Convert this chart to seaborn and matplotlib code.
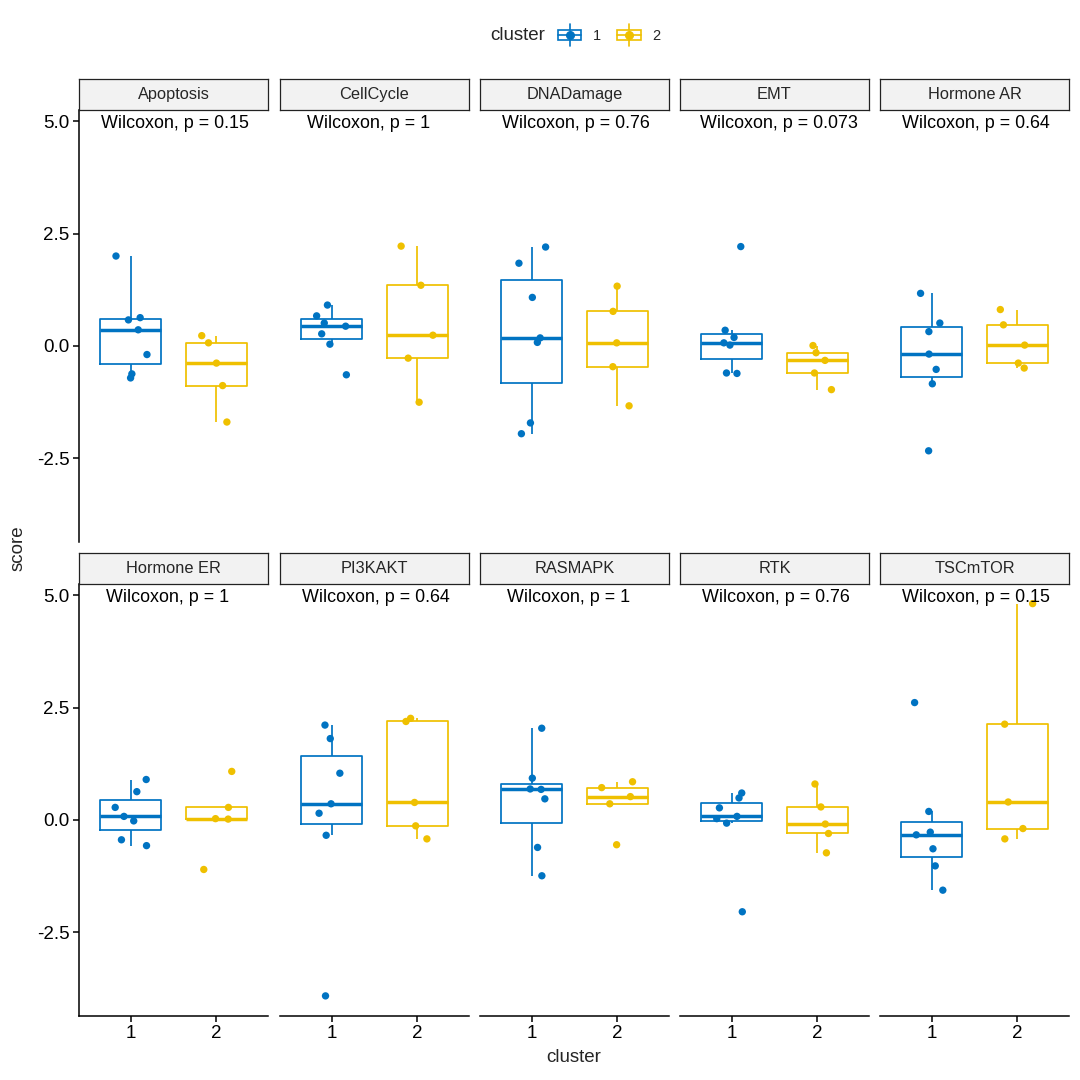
import numpy as np
import pandas as pd
import matplotlib
matplotlib.use("Agg")
import matplotlib.pyplot as plt
import seaborn as sns
from matplotlib.legend_handler import HandlerBase
from matplotlib.patches import Rectangle
from matplotlib.lines import Line2D

# --- data ------------------------------------------------------------------
PATHWAYS = ["Apoptosis", "CellCycle", "DNADamage", "EMT", "Hormone AR",
            "Hormone ER", "PI3KAKT", "RASMAPK", "RTK", "TSCmTOR"]
P_VALUES = ["0.15", "1", "0.76", "0.073", "0.64",
            "1", "0.64", "1", "0.76", "0.15"]
CLUSTERS = ["1", "2"]

SCORES_C1 = [
    [2.00, 0.63, 0.58, 0.36, -0.19, -0.62, -0.71],
    [0.91, 0.67, 0.51, 0.44, 0.27, 0.04, -0.64],
    [2.20, 1.84, 1.08, 0.18, 0.08, -1.71, -1.95],
    [2.21, 0.35, 0.19, 0.07, 0.02, -0.60, -0.61],
    [1.17, 0.51, 0.32, -0.18, -0.52, -0.84, -2.33],
    [0.90, 0.63, 0.28, 0.08, -0.02, -0.44, -0.57],
    [2.11, 1.81, 1.04, 0.36, 0.15, -0.34, -3.91],
    [2.04, 0.93, 0.69, 0.68, 0.47, -0.61, -1.24],
    [0.60, 0.49, 0.27, 0.08, 0.03, -0.07, -2.04],
    [2.61, 0.19, -0.27, -0.33, -0.64, -1.02, -1.56],
]
SCORES_C2 = [
    [0.23, 0.07, -0.38, -0.88, -1.69],
    [2.22, 1.35, 0.24, -0.27, -1.25],
    [1.33, 0.77, 0.07, -0.46, -1.33],
    [0.01, -0.15, -0.32, -0.60, -0.97],
    [0.81, 0.47, 0.02, -0.38, -0.49],
    [1.08, 0.28, 0.03, 0.02, -1.10],
    [2.26, 2.19, 0.39, -0.13, -0.42],
    [0.85, 0.72, 0.52, 0.36, -0.55],
    [0.80, 0.29, -0.09, -0.30, -0.73],
    [4.81, 2.13, 0.40, -0.19, -0.42],
]

PALETTE = {"1": "#0073C2", "2": "#EFC000"}

rows = []
for name, c1, c2 in zip(PATHWAYS, SCORES_C1, SCORES_C2):
    rows += [{"pathway": name, "cluster": "1", "score": v} for v in c1]
    rows += [{"pathway": name, "cluster": "2", "score": v} for v in c2]
df = pd.DataFrame(rows)

sns.set_style("ticks")
plt.rcParams["font.family"] = ["Liberation Sans", "DejaVu Sans"]
plt.rcParams["axes.unicode_minus"] = False


class BoxKey:
    def __init__(self, color):
        self.color = color


class HandlerBoxKey(HandlerBase):
    # ggplot-like legend key: box + median + whiskers + dot
    def create_artists(self, legend, orig_handle, xdescent, ydescent,
                       width, height, fontsize, trans):
        c = orig_handle.color
        x0, y0 = -xdescent, -ydescent
        cx = x0 + width / 2
        cy = y0 + height / 2
        rect = Rectangle((x0, y0 + 0.2 * height), width, 0.6 * height,
                         fill=False, edgecolor=c, lw=1.2, transform=trans)
        med = Line2D([x0, x0 + width], [cy, cy], color=c, lw=1.2, transform=trans)
        wlo = Line2D([cx, cx], [y0 - 0.1 * height, y0 + 0.2 * height],
                     color=c, lw=1.2, transform=trans)
        whi = Line2D([cx, cx], [y0 + 0.8 * height, y0 + 1.1 * height],
                     color=c, lw=1.2, transform=trans)
        dot = Line2D([cx], [cy], marker="o", ms=5.5, color=c, lw=0, transform=trans)
        return [rect, med, wlo, whi, dot]


W = H = 1080
fig = plt.figure(figsize=(10.8, 10.8), dpi=100)


def fbox(x0, y0, x1, y1):
    return [x0 / W, 1 - y1 / H, (x1 - x0) / W, (y1 - y0) / H]


COL_X = [79, 280, 480, 680, 880]
PANEL_W = 189
ROW_Y = [(79, 110, 541.5), (553, 584, 1015.5)]  # strip top, panel top, panel bottom

lo, hi = df["score"].min(), df["score"].max()
pad = 0.05 * (hi - lo)
ylim = (lo - pad, hi + pad)
label_y = hi + 0.14

np.random.seed(7)
texts = []
for i, name in enumerate(PATHWAYS):
    r, c = divmod(i, 5)
    strip_top, top, bottom = ROW_Y[r]
    x0 = COL_X[c]
    ax = fig.add_axes(fbox(x0, top, x0 + PANEL_W, bottom))
    sub = df[df["pathway"] == name]

    sns.boxplot(data=sub, x="cluster", y="score", hue="cluster", order=CLUSTERS,
                hue_order=CLUSTERS, palette=PALETTE, fill=False, width=0.7,
                showfliers=False, showcaps=False, linewidth=1.25,
                medianprops={"linewidth": 2.5}, legend=False, ax=ax)
    sns.stripplot(data=sub, x="cluster", y="score", hue="cluster", order=CLUSTERS,
                  hue_order=CLUSTERS, palette=PALETTE, jitter=0.2, size=5.3,
                  linewidth=0, legend=False, ax=ax, zorder=3)

    ax.set_xlim(-0.6, 1.6)
    ax.set_ylim(*ylim)
    ax.set_yticks([-2.5, 0.0, 2.5, 5.0])
    ax.set_yticklabels(["-2.5", "0.0", "2.5", "5.0"])
    ax.set_xlabel("")
    ax.set_ylabel("")
    for s in ["top", "right"]:
        ax.spines[s].set_visible(False)
    ax.spines["left"].set_visible(c == 0)
    ax.spines["bottom"].set_visible(r == 1)
    for s in ["left", "bottom"]:
        ax.spines[s].set_linewidth(1.1)
        ax.spines[s].set_color("black")
    ax.tick_params(axis="both", labelsize=13.5, colors="black", length=4,
                   width=1.1, direction="out", pad=3)
    if c != 0:
        ax.tick_params(axis="y", left=False, labelleft=False)
    if r == 0:
        ax.tick_params(axis="x", bottom=False, labelbottom=False)

    t = ax.text(0, label_y, f"Wilcoxon, p = {P_VALUES[i]}", ha="left",
                va="center", fontsize=12.9, color="black")
    texts.append((ax, t))

    sax = fig.add_axes(fbox(x0, strip_top, x0 + PANEL_W, top))
    sax.set_facecolor("#F2F2F2")
    sax.set_xticks([])
    sax.set_yticks([])
    for s in sax.spines.values():
        s.set_visible(True)
        s.set_color("#222222")
        s.set_linewidth(0.9)
    sax.text(0.5, 0.5, name, ha="center", va="center", fontsize=11.8,
             transform=sax.transAxes)

# emulate ggpubr's hjust ~0.2 for the p-value labels
fig.canvas.draw()
for ax, t in texts:
    bb = t.get_window_extent()
    w_data = bb.width / ax.bbox.width * 2.2
    t.set_x(0 - 0.2 * w_data)

fig.text(18 / W, 1 - 548 / H, "score", rotation=90, ha="center", va="center",
         fontsize=13.5)
fig.text(574 / W, 1 - 1057 / H, "cluster", ha="center", va="center", fontsize=13.5)

fig.text(545 / W, 1 - 35 / H, "cluster", ha="right", va="center", fontsize=13.5)
fig.legend(handles=[BoxKey(PALETTE["1"]), BoxKey(PALETTE["2"])], labels=CLUSTERS,
           handler_map={BoxKey: HandlerBoxKey()}, loc="center left",
           bbox_to_anchor=(558 / W, 1 - 35 / H), ncol=2, frameon=False,
           fontsize=10.5, handlelength=1.6, handleheight=1.5, handletextpad=0.8,
           columnspacing=1.1, borderpad=0, borderaxespad=0)

fig.savefig("out.png", dpi=100)
